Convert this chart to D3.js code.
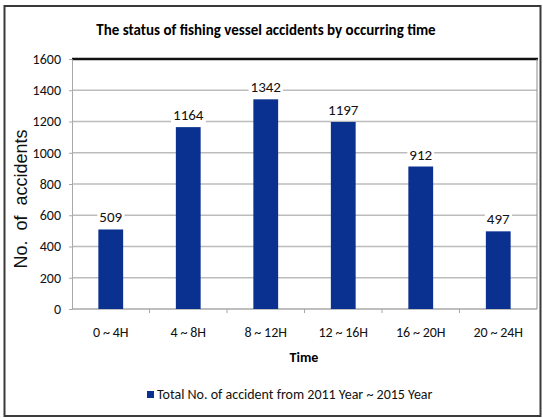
<html lang='eng'>
    <head>
        <title>Fishing vessel accidents</title>
        <script src="https://d3js.org/d3.v7.min.js" charset="utf-8"></script>
        <style>
        body{
          margin: 0;
          background: #fff;
          font-family: Carlito, "Liberation Sans Narrow", "Open Sans", sans-serif;
        }
        </style>
    </head>
    <body>
        <script>
            // data
            var categories = ["0~4H", "4~8H", "8~12H", "12~16H", "16~20H", "20~24H"]
            var accidents = [509, 1164, 1342, 1197, 912, 497]
            var yTicks = [0, 200, 400, 600, 800, 1000, 1200, 1400, 1600]
            var seriesName = "Total No. of accident from 2011 Year ~ 2015 Year"

            var width = 543
            var height = 418
            var barColor = "#0b3190"
            var labelFont = 'Carlito, "Liberation Sans Narrow", "Open Sans", sans-serif'

            var svg = d3.select("body")
                        .append("svg")
                        .attr("width", width)
                        .attr("height", height)

            // outer frame
            svg.append("rect")
               .attr("x", 4.5).attr("y", 6)
               .attr("width", 536).attr("height", 410)
               .attr("fill", "none")
               .attr("stroke", "#3a3a3a")
               .attr("stroke-width", 2)

            var margin = {left: 72, right: 537, top: 59, bottom: 309}

            var x = d3.scaleBand()
                      .domain(categories)
                      .range([margin.left, margin.right])
                      .paddingInner(0.68)
                      .paddingOuter(0.34)

            var xBands = d3.scaleBand()
                      .domain(categories)
                      .range([margin.left, margin.right])

            var y = d3.scaleLinear()
                      .domain([0, 1600])
                      .range([margin.bottom, margin.top])

            // title
            svg.append("text")
               .attr("x", 266)
               .attr("y", 35)
               .attr("text-anchor", "middle")
               .attr("font-weight", "bold")
               .attr("font-size", "15px")
               .style("font-family", labelFont)
               .text("The status of fishing vessel accidents by occurring time")

            // grid lines
            svg.append("g")
               .selectAll("line")
               .data(yTicks.slice(1, -1))
               .enter().append("line")
               .attr("x1", margin.left).attr("x2", margin.right)
               .attr("y1", function(d) {return y(d)})
               .attr("y2", function(d) {return y(d)})
               .attr("stroke", "#bcbcbc")
               .attr("stroke-width", 1.5)

            // plot frame: heavy top line, thin right side
            svg.append("line")
               .attr("x1", margin.left).attr("x2", margin.right + 1)
               .attr("y1", y(1600)).attr("y2", y(1600))
               .attr("stroke", "#111").attr("stroke-width", 2.5)
            svg.append("line")
               .attr("x1", margin.right).attr("x2", margin.right)
               .attr("y1", y(1600)).attr("y2", y(0))
               .attr("stroke", "#8a8a8a").attr("stroke-width", 1)

            // y axis
            var yAxis = svg.append("g")
               .attr("transform", "translate(" + margin.left + ",0)")
               .call(d3.axisLeft(y).tickValues(yTicks).tickFormat(d3.format("d")).tickSize(3).tickPadding(8))
            yAxis.selectAll("line, path").attr("stroke", "#a8a8a8")
            yAxis.selectAll("text")
                 .attr("font-size", "14px")
                 .attr("fill", "#111")
                 .style("font-family", labelFont)

            // x axis with ticks between categories
            var xAxis = svg.append("g")
               .attr("transform", "translate(0," + margin.bottom + ")")
            xAxis.append("line")
                 .attr("x1", margin.left).attr("x2", margin.right)
                 .attr("stroke", "#a8a8a8").attr("stroke-width", 1.5)
            xAxis.selectAll(".tk")
                 .data(categories.slice(1))
                 .enter().append("line")
                 .attr("class", "tk")
                 .attr("x1", function(d) {return xBands(d)})
                 .attr("x2", function(d) {return xBands(d)})
                 .attr("y1", 0).attr("y2", 4)
                 .attr("stroke", "#a8a8a8")
            xAxis.selectAll(".lbl")
                 .data(categories)
                 .enter().append("text")
                 .attr("class", "lbl")
                 .attr("x", function(d) {return x(d) + x.bandwidth() / 2})
                 .attr("y", 28)
                 .attr("text-anchor", "middle")
                 .attr("font-size", "14px")
                 .attr("fill", "#111")
                 .style("font-family", labelFont)
                 .text(function(d) {return d.replace("~", "\u2009~\u2009")})

            // bars
            svg.append("g")
               .selectAll("rect")
               .data(accidents)
               .enter().append("rect")
               .attr("x", function(d, i) {return x(categories[i])})
               .attr("y", function(d) {return y(d)})
               .attr("width", x.bandwidth())
               .attr("height", function(d) {return y(0) - y(d)})
               .attr("fill", barColor)

            // value labels on a white patch
            var vl = svg.append("g")
                        .selectAll("g")
                        .data(accidents)
                        .enter().append("g")
            vl.append("text")
              .attr("x", function(d, i) {return x(categories[i]) + x.bandwidth() / 2})
              .attr("y", function(d) {return y(d) - 7})
              .attr("text-anchor", "middle")
              .attr("font-size", "15px")
              .attr("fill", "#111")
              .style("font-family", labelFont)
              .text(function(d) {return d})
            vl.each(function() {
                var t = d3.select(this).select("text")
                var b = t.node().getBBox()
                d3.select(this).insert("rect", "text")
                  .attr("x", b.x - 2).attr("y", b.y + 1)
                  .attr("width", b.width + 4).attr("height", b.height - 2)
                  .attr("fill", "#fff")
            })

            // axis titles
            svg.append("text")
               .attr("transform", "translate(27,199) rotate(-90)")
               .attr("text-anchor", "middle")
               .attr("font-size", "18px")
               .attr("word-spacing", "5px")
               .attr("fill", "#111")
               .style("font-family", "'Liberation Sans', Arial, sans-serif")
               .text("No. of accidents")

            svg.append("text")
               .attr("x", 304)
               .attr("y", 362)
               .attr("text-anchor", "middle")
               .attr("font-weight", "bold")
               .attr("font-size", "14px")
               .style("font-family", labelFont)
               .text("Time")

            // legend
            var lg = svg.append("g").attr("transform", "translate(147,391)")
            lg.append("rect")
              .attr("width", 7).attr("height", 7)
              .attr("fill", barColor)
            lg.append("text")
              .attr("x", 10)
              .attr("y", 8)
              .attr("font-size", "14px")
              .attr("fill", "#111")
              .style("font-family", labelFont)
              .text(seriesName)
        </script>
    </body>
</html>
